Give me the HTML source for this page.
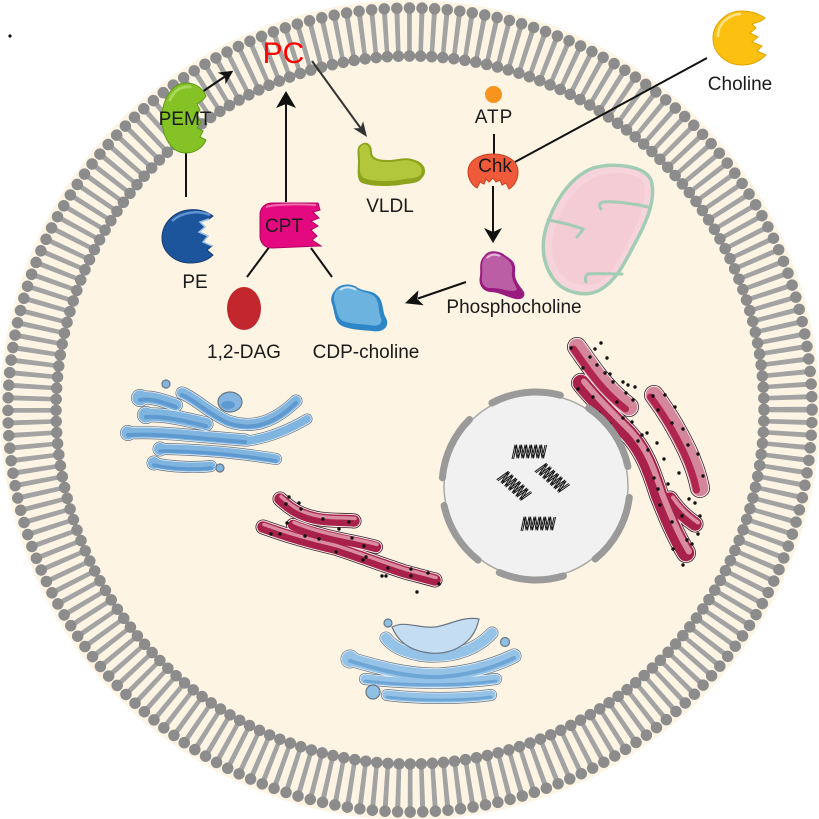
<!DOCTYPE html>
<html><head><meta charset="utf-8"><style>
html,body{margin:0;padding:0;background:#fff;}
svg{display:block;}
text{font-family:"Liberation Sans",Arial,sans-serif;}
</style></head><body>
<svg width="819" height="819" viewBox="0 0 819 819" xmlns="http://www.w3.org/2000/svg">
<rect width="819" height="819" fill="#fff"/>
<circle cx="10" cy="36" r="1.6" fill="#111"/>
<!-- cell -->
<circle cx="410" cy="410" r="410" fill="#fdf4e3"/>
<!-- membrane -->
<path d="M788,410 A378,378 0 1 1 32,410 A378,378 0 1 1 788,410" fill="none" stroke="#a3a3a3" stroke-width="42" pathLength="200" stroke-dasharray="0.4 0.6" stroke-dashoffset="0.2"/>
<path d="M812,410 A402,402 0 1 1 8,410 A402,402 0 1 1 812,410" fill="none" stroke="#8c8c8c" stroke-width="11.5" stroke-linecap="round" pathLength="200" stroke-dasharray="0 1"/>
<path d="M764,410 A354,354 0 1 1 56,410 A354,354 0 1 1 764,410" fill="none" stroke="#8c8c8c" stroke-width="11.5" stroke-linecap="round" pathLength="200" stroke-dasharray="0 1"/>

<defs>
<path id="g1" d="M140,398 C150,396 162,400 176,405"/>
<path id="g2" d="M182,393 C195,398 208,412 228,421 C248,428 270,426 296,401"/>
<path id="g3" d="M146,415 C165,414 185,419 206,424"/>
<path id="g4" d="M128,433 C160,431 200,437 245,440"/>
<path id="g5" d="M247,441 C270,438 292,428 307,419"/>
<path id="g6" d="M160,449 C190,449 235,452 276,459"/>
<path id="g7" d="M154,463 C170,467 195,468 211,466"/>
<path id="b2" d="M386,638 C402,660 462,666 492,633"/>
<path id="b3" d="M350,659 C380,668 410,676 440,675 C470,673 495,665 514,656"/>
<path id="b4" d="M365,679 C400,683 450,685 496,679"/>
<path id="b5" d="M387,695 C420,699 460,699 491,695"/>
<path id="e1" d="M280,499 C290,508 300,516 320,519 C335,521 345,520 354,521"/>
<path id="e2" d="M293,525 C305,530 325,536 345,540 C360,543 370,545 376,547"/>
<path id="e3" d="M263,527 C280,533 300,540 335,548 C360,556 380,564 405,572 C420,576 428,578 435,580"/>
<path id="r1" d="M577,347 C587,361 598,378 612,392 C619,399 625,404 629,407"/>
<path id="r2" d="M581,383 C594,399 610,415 627,432 C644,450 651,470 659,495 C667,515 675,535 686,553"/>
<path id="r3" d="M654,395 C663,407 675,425 687,450 C694,465 698,478 700,488"/>
<path id="r4" d="M670,499 C676,508 685,517 695,524"/>
<g id="coil" fill="none" stroke="#1a1a1a" stroke-width="1" stroke-linejoin="round">
<path d="M0,15 L3,1 L5,14 L8,1 L10,14 L13,1 L15,14 L18,1 L20,14 L23,1 L25,14 L28,1 L30,14 L33,1"/>
<path d="M1.6,15 L4.6,1 L6.6,14 L9.6,1 L11.6,14 L14.6,1 L16.6,14 L19.6,1 L21.6,14 L24.6,1 L26.6,14 L29.6,1 L31.6,14 L34.6,1"/>
</g>
</defs>

<!-- Golgi top-left -->
<g fill="none" stroke-linecap="round" stroke-linejoin="round">
 <g stroke="#6b7682">
  <use href="#g1" stroke-width="14"/><use href="#g2" stroke-width="13"/><use href="#g3" stroke-width="15"/>
  <use href="#g4" stroke-width="13"/><use href="#g5" stroke-width="11"/><use href="#g6" stroke-width="12"/><use href="#g7" stroke-width="12"/>
 </g>
 <g fill="#6b7682" stroke="none">
  <circle cx="140" cy="398" r="9"/><circle cx="146" cy="415" r="9"/><circle cx="128" cy="433" r="8"/><circle cx="160" cy="449" r="7.5"/><circle cx="154" cy="463" r="7.5"/>
 </g>
 <g stroke="#e3eff9">
  <use href="#g1" stroke-width="12.6"/><use href="#g2" stroke-width="11.6"/><use href="#g3" stroke-width="13.6"/>
  <use href="#g4" stroke-width="11.6"/><use href="#g5" stroke-width="9.6"/><use href="#g6" stroke-width="10.6"/><use href="#g7" stroke-width="10.6"/>
 </g>
 <g fill="#e3eff9" stroke="none">
  <circle cx="140" cy="398" r="8.3"/><circle cx="146" cy="415" r="8.3"/><circle cx="128" cy="433" r="7.3"/><circle cx="160" cy="449" r="6.8"/><circle cx="154" cy="463" r="6.8"/>
 </g>
 <g stroke="#80b5e0">
  <use href="#g1" stroke-width="11"/><use href="#g2" stroke-width="10"/><use href="#g3" stroke-width="12"/>
  <use href="#g4" stroke-width="10"/><use href="#g5" stroke-width="8"/><use href="#g6" stroke-width="9"/><use href="#g7" stroke-width="9"/>
 </g>
 <g fill="#80b5e0" stroke="none">
  <circle cx="140" cy="398" r="7.5"/><circle cx="146" cy="415" r="7.5"/><circle cx="128" cy="433" r="6.5"/><circle cx="160" cy="449" r="6"/><circle cx="154" cy="463" r="6"/>
 </g>
 <g stroke="#5e9ad0" transform="translate(0,2)">
  <use href="#g1" stroke-width="4"/><use href="#g2" stroke-width="4"/><use href="#g3" stroke-width="4"/>
  <use href="#g4" stroke-width="4"/><use href="#g6" stroke-width="3.5"/><use href="#g7" stroke-width="3.5"/>
 </g>
</g>
<g fill="#82b6e0" stroke="#6b7682" stroke-width="1.2">
 <circle cx="166" cy="384" r="4"/>
 <ellipse cx="230" cy="402" rx="12" ry="10"/>
 <circle cx="220" cy="468" r="4"/>
</g>
<ellipse cx="228" cy="405" rx="7" ry="4" fill="#5e9ad0"/>

<!-- Golgi bottom -->
<g fill="none" stroke-linecap="round" stroke-linejoin="round">
 <g stroke="#6b7682">
  <use href="#b2" stroke-width="13"/><use href="#b3" stroke-width="15"/><use href="#b4" stroke-width="12"/><use href="#b5" stroke-width="12"/>
 </g>
 <circle cx="350" cy="659" r="9.5" fill="#6b7682"/>
 <g stroke="#e6f1fa">
  <use href="#b2" stroke-width="11.6"/><use href="#b3" stroke-width="13.6"/><use href="#b4" stroke-width="10.6"/><use href="#b5" stroke-width="10.6"/>
 </g>
 <circle cx="350" cy="659" r="8.8" fill="#e6f1fa"/>
 <g stroke="#95c3e8">
  <use href="#b2" stroke-width="10"/><use href="#b3" stroke-width="12"/><use href="#b4" stroke-width="9"/><use href="#b5" stroke-width="9"/>
 </g>
 <circle cx="350" cy="659" r="8" fill="#95c3e8"/>
 <g stroke="#6ea6d6" transform="translate(0,2)">
  <use href="#b3" stroke-width="4"/><use href="#b4" stroke-width="3"/><use href="#b5" stroke-width="3"/>
 </g>
</g>
<path d="M392,627 C405,620 420,629 435,627 C450,625 462,616 479,619 C473,648 446,655 430,653 C410,651 398,642 392,627 Z" fill="#c4ddf2" stroke="#6b7682" stroke-width="1.2"/>
<g fill="#8fc0e6" stroke="#6b7682" stroke-width="1.2">
 <circle cx="388" cy="623" r="4"/>
 <circle cx="373" cy="692" r="7"/>
 <circle cx="505" cy="642" r="4.5"/>
</g>

<!-- ER small -->
<g fill="none" stroke-linecap="round" stroke-linejoin="round">
 <g stroke="#3b1f27"><use href="#e1" stroke-width="15"/><use href="#e2" stroke-width="14"/><use href="#e3" stroke-width="15"/></g>
 <g stroke="#fdf0f2"><use href="#e1" stroke-width="13.4"/><use href="#e2" stroke-width="12.4"/><use href="#e3" stroke-width="13.4"/></g>
 <g stroke="#a8214a"><use href="#e1" stroke-width="11.5"/><use href="#e2" stroke-width="10.5"/><use href="#e3" stroke-width="11.5"/></g>
 <g stroke="#d98c9f" transform="translate(1,-2.5)"><use href="#e1" stroke-width="3.5"/><use href="#e2" stroke-width="3.5"/><use href="#e3" stroke-width="3.5"/></g>
</g>
<!-- ER right -->
<g fill="none" stroke-linecap="round" stroke-linejoin="round">
 <g stroke="#3b1f27"><use href="#r1" stroke-width="20"/><use href="#r2" stroke-width="20"/><use href="#r3" stroke-width="20"/><use href="#r4" stroke-width="17"/></g>
 <g stroke="#fdf0f2"><use href="#r1" stroke-width="18.4"/><use href="#r2" stroke-width="18.4"/><use href="#r3" stroke-width="18.4"/><use href="#r4" stroke-width="15.4"/></g>
 <g stroke="#d4879a"><use href="#r1" stroke-width="16.5"/><use href="#r3" stroke-width="16.5"/></g>
 <g stroke="#a8214a"><use href="#r2" stroke-width="16.5"/><use href="#r4" stroke-width="13.5"/></g>
 <g stroke="#b1264f" transform="translate(-3.5,2)"><use href="#r1" stroke-width="7"/><use href="#r3" stroke-width="7"/></g>
 <g stroke="#d98c9f" transform="translate(3,-1.5)"><use href="#r2" stroke-width="6"/><use href="#r4" stroke-width="4"/></g>
</g>
<g fill="#111">
 <circle cx="289" cy="497" r="1.7"/><circle cx="299" cy="503" r="1.7"/><circle cx="286" cy="504" r="1.7"/><circle cx="301" cy="509" r="1.7"/>
 <circle cx="323" cy="519" r="1.7"/><circle cx="349" cy="522" r="1.7"/><circle cx="339" cy="529" r="1.7"/><circle cx="287" cy="523" r="1.7"/>
 <circle cx="271" cy="534" r="1.7"/><circle cx="280" cy="534" r="1.7"/><circle cx="305" cy="536" r="1.7"/><circle cx="319" cy="539" r="1.7"/>
 <circle cx="352" cy="538" r="1.7"/><circle cx="364" cy="546" r="1.7"/><circle cx="366" cy="557" r="1.7"/><circle cx="363" cy="560" r="1.7"/>
 <circle cx="336" cy="552" r="1.7"/><circle cx="388" cy="568" r="1.7"/><circle cx="411" cy="569" r="1.7"/><circle cx="411" cy="576" r="1.7"/>
 <circle cx="428" cy="573" r="1.7"/><circle cx="386" cy="576" r="1.7"/><circle cx="382" cy="576" r="1.7"/><circle cx="439" cy="584" r="1.7"/>
 <circle cx="417" cy="592" r="1.7"/>
 <circle cx="601" cy="343" r="1.7"/><circle cx="571" cy="348" r="1.7"/><circle cx="595" cy="349" r="1.7"/><circle cx="607" cy="358" r="1.7"/>
 <circle cx="590" cy="357" r="1.7"/><circle cx="597" cy="365" r="1.7"/><circle cx="605" cy="373" r="1.7"/><circle cx="610" cy="374" r="1.7"/>
 <circle cx="583" cy="368" r="1.7"/><circle cx="613" cy="382" r="1.7"/><circle cx="623" cy="382" r="1.7"/><circle cx="628" cy="385" r="1.7"/>
 <circle cx="635" cy="387" r="1.7"/><circle cx="626" cy="393" r="1.7"/><circle cx="578" cy="389" r="1.7"/><circle cx="593" cy="397" r="1.7"/>
 <circle cx="633" cy="400" r="1.7"/><circle cx="617" cy="402" r="1.7"/><circle cx="653" cy="396" r="1.7"/><circle cx="665" cy="395" r="1.7"/>
 <circle cx="675" cy="407" r="1.7"/><circle cx="658" cy="410" r="1.7"/><circle cx="599" cy="413" r="1.7"/><circle cx="610" cy="424" r="1.7"/>
 <circle cx="623" cy="418" r="1.7"/><circle cx="632" cy="422" r="1.7"/><circle cx="672" cy="423" r="1.7"/><circle cx="683" cy="429" r="1.7"/>
 <circle cx="642" cy="435" r="1.7"/><circle cx="647" cy="433" r="1.7"/><circle cx="657" cy="443" r="1.7"/><circle cx="648" cy="450" r="1.7"/>
 <circle cx="638" cy="441" r="1.7"/><circle cx="688" cy="445" r="1.7"/><circle cx="664" cy="459" r="1.7"/><circle cx="698" cy="454" r="1.7"/>
 <circle cx="679" cy="473" r="1.7"/><circle cx="703" cy="476" r="1.7"/><circle cx="654" cy="478" r="1.7"/><circle cx="668" cy="484" r="1.7"/>
 <circle cx="658" cy="489" r="1.7"/><circle cx="689" cy="499" r="1.7"/><circle cx="695" cy="503" r="1.7"/><circle cx="660" cy="505" r="1.7"/>
 <circle cx="682" cy="516" r="1.7"/><circle cx="700" cy="516" r="1.7"/><circle cx="672" cy="522" r="1.7"/><circle cx="698" cy="534" r="1.7"/>
 <circle cx="687" cy="540" r="1.7"/><circle cx="692" cy="544" r="1.7"/><circle cx="673" cy="549" r="1.7"/><circle cx="683" cy="565" r="1.7"/>
</g>

<!-- Nucleus -->
<circle cx="536" cy="486" r="92" fill="#f1f1f2" stroke="#a9a9a9" stroke-width="1.5"/>
<g fill="none" stroke="#9a9a9a" stroke-width="7" stroke-linecap="round">
 <path d="M491.9,403 A94,94 0 0 1 560.3,395.2"/>
 <path d="M588.6,408.1 A94,94 0 0 1 627.9,466.5"/>
 <path d="M629.3,497.5 A94,94 0 0 1 595.2,559"/>
 <path d="M563.5,575.9 A94,94 0 0 1 499.3,572.5"/>
 <path d="M478.1,560.1 A94,94 0 0 1 444.1,505.5"/>
 <path d="M442.4,477.8 A94,94 0 0 1 469.5,419.5"/>
</g>
<use href="#coil" transform="translate(512,444)"/>
<use href="#coil" transform="translate(552,478) rotate(42) translate(-17,-8)"/>
<use href="#coil" transform="translate(514,486) rotate(42) translate(-17,-8)"/>
<use href="#coil" transform="translate(521,516)"/>

<!-- Mitochondrion -->
<path d="M593,168 C615,162 645,166 651,180 C657,200 645,225 634,245 C625,262 617,280 600,290 C585,298 565,292 556,282 C544,268 540,248 546,228 C553,205 568,178 593,168 Z" fill="#f7d4db" stroke="#a3ccb4" stroke-width="3.5"/>
<path d="M598,176 C620,170 640,174 644,184 C648,200 638,224 628,242 C620,258 612,274 600,282 C588,288 572,285 563,276 C552,264 550,248 554,232 C560,210 573,186 598,176 Z" fill="#f2c3cd" opacity="0.5"/>
<g fill="none" stroke="#a3ccb4" stroke-width="3" stroke-linecap="round">
 <path d="M648,207 C635,204 615,201 603,202 C599,203 599,206 601,209"/>
 <path d="M548,220 C560,222 572,225 583,229 C582,232 579,234 577,237"/>
 <path d="M622,274 C610,274 598,273 588,274 C585,276 585,279 586,282"/>
</g>

<!-- Connectors -->
<g stroke="#111" stroke-width="2" fill="none">
 <line x1="186" y1="152" x2="186" y2="197"/>
 <line x1="202" y1="92" x2="225" y2="76.5"/>
 <line x1="286" y1="202" x2="286" y2="104"/>
 <line x1="270" y1="246" x2="247" y2="277"/>
 <line x1="311" y1="248" x2="332" y2="277"/>
 <line x1="494" y1="134" x2="494" y2="155"/>
 <line x1="515" y1="162" x2="707" y2="58"/>
 <line x1="493" y1="186" x2="493" y2="232"/>
 <line x1="466" y1="282" x2="418" y2="298.5"/>
</g>
<line x1="312" y1="61" x2="360.5" y2="128" stroke="#333" stroke-width="2"/>
<g fill="#111">
 <polygon points="233.3,70.7 225.5,84.3 225,76.2 217.7,72.6"/>
 <polygon points="286,91 296,108 286,104 276,108"/>
 <polygon points="493,243 484,228 493,232 502,228"/>
 <polygon points="405,303.3 423.7,305.3 417.3,299 418.4,290.2"/>
</g>
<polygon points="367,137 353.3,128.4 360.5,128.1 363.1,121.3" fill="#333"/>

<!-- Molecules -->
<path d="M186,83 C172,83 162,100 162,118 C162,138 172,153 186,153 C196,153 203,147 206,140 L200,137 L203,131 L197,128 L201,122 L196,117 L200,110 L197,104 L203,100 L206,96 C203,88 195,83 186,83 Z" fill="#84c226" stroke="#5e9a18" stroke-width="1"/>
<path d="M170,100 C174,90 182,86 190,87" fill="none" stroke="#a9d85a" stroke-width="3" stroke-linecap="round"/>
<path d="M213,216 C205,210 195,209 188,210 C172,212 162,225 162,238 C162,252 175,263 190,263 C200,263 208,260 213,255 L207,250 L212,246 L203,242 L208,236 L199,232 L205,227 L200,222 L209,219 Z" fill="#1c559c" stroke="#163f72" stroke-width="1"/>
<path d="M172,221 C182,212 198,210 210,215" fill="none" stroke="#5f93d0" stroke-width="2.5"/>
<path d="M209,219 L200,222 L205,227 L199,232 L208,236 L203,242 L212,246" fill="none" stroke="#9cc0e6" stroke-width="1.5"/>
<path d="M272,203 L318,203 L320,210 L313,212 L319,218 L311,221 L318,226 L311,230 L317,236 L312,240 L321,246 L272,248 C264,248 260,242 260,236 L260,215 C260,208 265,203 272,203 Z" fill="#e4097f" stroke="#b0005f" stroke-width="1"/>
<path d="M266,207 C275,204 300,204 316,205" fill="none" stroke="#f06cb0" stroke-width="2"/>
<ellipse cx="244" cy="308.5" rx="17" ry="21.5" fill="#c1272d"/>
<path d="M335,290 C340,283 352,283 358,288 C366,292 372,290 378,296 C384,302 382,312 386,318 C390,326 384,333 372,331 C362,330 352,330 342,326 C334,322 335,312 332,304 C330,298 332,294 335,290 Z" fill="#2d86c6"/>
<path d="M336,291 C341,285 352,285 357,289 C364,293 370,292 375,297 C380,303 378,312 381,318 C383,324 378,327 370,325 C360,324 351,324 343,321 C337,318 337,310 335,304 C333,298 334,295 336,291 Z" fill="#6db3e0"/>
<path d="M340,290 C345,286 352,287 356,290" fill="none" stroke="#cfe7f7" stroke-width="2"/>
<path d="M360,145 C366,140 372,144 372,152 C372,158 378,160 388,160 C398,160 405,156 415,160 C425,163 428,172 422,178 C418,184 410,183 400,185 C385,187 370,186 362,183 C356,180 358,170 358,162 C358,155 356,148 360,145 Z" fill="#8ea31c"/>
<path d="M361,146 C366,142 370,146 370,153 C370,160 378,162 388,162 C398,162 405,158 414,162 C422,165 424,172 419,176 C414,179 408,178 399,180 C385,182 371,181 364,178 C359,175 360,168 360,162 C360,155 358,149 361,146 Z" fill="#b3c73c"/>
<circle cx="493.5" cy="94.5" r="8.5" fill="#f7941d"/>
<path d="M468,172 C468,160 480,154 493,154 C506,154 518,160 518,172 C518,180 514,186 509,189 L506,183 L502,185 L500,180 L496,182 L493,178 L489,182 L486,179 L484,184 L480,182 L477,188 C472,185 468,179 468,172 Z" fill="#ef5a3a" stroke="#c8401f" stroke-width="1"/>
<path d="M765,18 C758,13 750,11 742,11 C726,11 713,24 713,38 C713,53 726,65 742,65 C752,65 760,61 766,55 L757,51 L762,46 L752,42 L758,37 L750,33 L756,28 L752,24 L761,21 Z" fill="#fcc010" stroke="#e0a300" stroke-width="1"/>
<path d="M718,36 C718,24 728,15 740,14" fill="none" stroke="#fde28a" stroke-width="2.5" stroke-linecap="round"/>
<path d="M485,255 C490,249 500,251 506,256 C512,260 516,262 515,272 C514,280 520,286 524,292 C526,298 520,301 512,298 C505,296 498,292 490,292 C482,291 478,284 480,276 C481,268 478,262 485,255 Z" fill="#9a1b80"/>
<path d="M486,256 C491,251 499,253 504,257 C510,261 513,264 512,272 C511,279 515,284 517,289 C516,292 510,291 505,290 C498,288 494,288 489,288 C483,287 481,282 482,276 C483,268 480,262 486,256 Z" fill="#bb5ea6"/>
<path d="M487,258 C491,254 496,254 500,256" fill="none" stroke="#e4b6da" stroke-width="2"/>

<!-- Labels -->
<g font-size="19" fill="#1a1a1a" text-anchor="middle">
 <text x="185" y="125">PEMT</text>
 <text x="195" y="288">PE</text>
 <text x="284" y="232">CPT</text>
 <text x="244" y="358">1,2-DAG</text>
 <text x="366" y="358">CDP-choline</text>
 <text x="390" y="212">VLDL</text>
 <text x="494" y="123" letter-spacing="1">ATP</text>
 <text x="495" y="172">Chk</text>
 <text x="740" y="90">Choline</text>
 <text x="514" y="313">Phosphocholine</text>
</g>
<text x="283.5" y="63" font-size="30" fill="#ff0000" text-anchor="middle">PC</text>
</svg>
</body></html>
